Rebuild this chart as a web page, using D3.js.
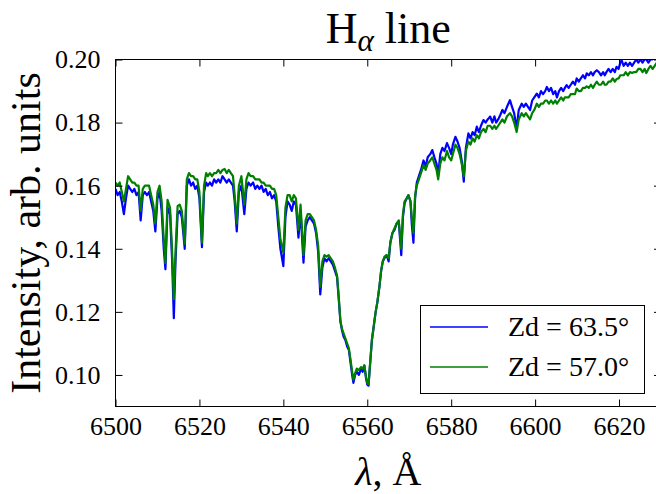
<!DOCTYPE html>
<html>
<head>
<meta charset="utf-8">
<script src="https://cdn.jsdelivr.net/npm/d3@7"></script>
<style>
  body { margin: 0; background: #fff; }
  svg { display: block; font-family: "Liberation Serif", serif; }
</style>
</head>
<body>
<svg id="chart"></svg>
<script>
// длины волн, Å
let lambda = [
  6500, 6500.5, 6501, 6501.5, 6502, 6502.5, 6503, 6503.5, 6504, 6504.5,
  6505, 6505.5, 6506, 6506.5, 6507, 6507.5, 6508, 6508.5, 6509, 6509.5,
  6510, 6510.5, 6511, 6511.5, 6511.9, 6512.4, 6513, 6513.5, 6513.9, 6514.3,
  6514.8, 6515.3, 6515.8, 6516.5, 6517, 6517.5, 6518, 6518.5, 6519, 6519.5,
  6520, 6520.6, 6521.1, 6521.6, 6522, 6522.5, 6523, 6523.5, 6524, 6524.5,
  6525, 6525.5, 6526, 6526.5, 6527, 6527.5, 6528, 6528.4, 6528.9, 6529.4,
  6530, 6530.7, 6531.2, 6531.7, 6532.2, 6532.8, 6533.3, 6533.8, 6534.3, 6534.8,
  6535.3, 6535.8, 6536.3, 6536.8, 6537.3, 6537.8, 6538.3, 6538.8, 6539.3, 6540,
  6540.5, 6541, 6541.5, 6542, 6542.5, 6543, 6543.6, 6544.1, 6544.8, 6545.3,
  6545.8, 6546.3, 6546.8, 6547.3, 6547.8, 6548.3, 6548.8, 6549.3, 6549.8, 6550.3,
  6550.8, 6551.3, 6551.8, 6552.3, 6552.8, 6553.2, 6553.6, 6554, 6554.4, 6554.8,
  6555.2, 6555.6, 6556, 6556.4, 6556.7, 6557.1, 6557.5, 6558, 6558.5, 6558.9,
  6559.3, 6559.7, 6560, 6560.3, 6560.7, 6561.1, 6561.6, 6562, 6562.4, 6562.9,
  6563.3, 6563.7, 6564.1, 6564.6, 6565.1, 6565.5, 6566, 6566.5, 6567, 6567.5,
  6568.1, 6568.5, 6568.9, 6569.4, 6569.8, 6570.3, 6570.6, 6571, 6571.4, 6571.8,
  6572.3, 6572.8, 6573.4, 6573.9, 6574.4, 6575, 6575.5, 6576, 6576.5, 6576.9,
  6577.4, 6577.9, 6578.4, 6579, 6579.5, 6580, 6580.4, 6581, 6581.5, 6582,
  6582.5, 6583, 6583.5, 6584.1, 6584.6, 6585.1, 6585.6, 6586.1, 6586.6, 6587.1,
  6587.7, 6588.2, 6588.7, 6589.3, 6589.8, 6590.3, 6590.7, 6591.2, 6591.7, 6592.2,
  6592.7, 6593.3, 6594, 6594.5, 6595, 6595.6, 6596.1, 6596.8, 6597.3, 6597.8,
  6598.3, 6598.8, 6599.3, 6599.8, 6600.4, 6600.9, 6601.4, 6601.9, 6602.4, 6602.8,
  6603.3, 6603.8, 6604.3, 6604.8, 6605.2, 6605.7, 6606.2, 6606.7, 6607.1, 6607.5,
  6608, 6608.5, 6609, 6609.5, 6609.9, 6610.4, 6610.9, 6611.4, 6611.9, 6612.3,
  6612.8, 6613.3, 6613.8, 6614.2, 6614.7, 6615.2, 6615.7, 6616.2, 6616.6, 6617,
  6617.5, 6618, 6618.5, 6619, 6619.4, 6619.9, 6620.3, 6620.6, 6621.1, 6621.6,
  6622.1, 6622.6, 6623.1, 6623.6, 6624.1, 6624.6, 6625.1, 6625.6, 6626.1, 6626.5,
  6627, 6627.5, 6628, 6628.5, 6629, 6630
];

// Zd = 63.5°
let zd635 = [
  0.159, 0.157, 0.158, 0.155, 0.151, 0.156, 0.160, 0.159, 0.158, 0.159,
  0.157, 0.158, 0.149, 0.157, 0.158, 0.157, 0.158, 0.155, 0.152, 0.1455,
  0.156, 0.158, 0.152, 0.140, 0.1335, 0.153, 0.151, 0.136, 0.118, 0.136,
  0.151, 0.152, 0.150, 0.140, 0.160, 0.162, 0.160, 0.161, 0.159, 0.160,
  0.156, 0.1405, 0.158, 0.161, 0.160, 0.161, 0.160, 0.162, 0.161, 0.162,
  0.161, 0.163, 0.162, 0.161, 0.162, 0.161, 0.160, 0.155, 0.1455, 0.158,
  0.160, 0.151, 0.159, 0.161, 0.160, 0.161, 0.159, 0.160, 0.159, 0.160,
  0.158, 0.159, 0.157, 0.158, 0.156, 0.157, 0.155, 0.147, 0.140, 0.1345,
  0.150, 0.155, 0.154, 0.152, 0.155, 0.154, 0.1435, 0.152, 0.1356, 0.147,
  0.149, 0.150, 0.149, 0.148, 0.145, 0.139, 0.1255, 0.134, 0.137, 0.136,
  0.137, 0.136, 0.135, 0.133, 0.131, 0.124, 0.117, 0.114, 0.112, 0.111,
  0.109, 0.108, 0.104, 0.100, 0.0975, 0.100, 0.101, 0.100, 0.102, 0.101,
  0.103, 0.099, 0.097, 0.0966, 0.104, 0.111, 0.116, 0.120, 0.123, 0.128,
  0.133, 0.136, 0.137, 0.138, 0.136, 0.142, 0.145, 0.146, 0.148, 0.1487,
  0.138, 0.150, 0.1545, 0.156, 0.157, 0.155, 0.148, 0.1419, 0.156, 0.161,
  0.163, 0.165, 0.168, 0.166, 0.169, 0.170, 0.1713, 0.169, 0.167, 0.1634,
  0.170, 0.172, 0.171, 0.1735, 0.172, 0.170, 0.173, 0.1755, 0.174, 0.172,
  0.168, 0.1613, 0.172, 0.1766, 0.175, 0.177, 0.176, 0.1787, 0.177, 0.179,
  0.1808, 0.180, 0.181, 0.1819, 0.180, 0.182, 0.180, 0.181, 0.1824, 0.184,
  0.183, 0.185, 0.1871, 0.185, 0.183, 0.1782, 0.184, 0.186, 0.185, 0.186,
  0.185, 0.184, 0.187, 0.188, 0.1892, 0.188, 0.190, 0.189, 0.190, 0.1913,
  0.190, 0.191, 0.189, 0.190, 0.188, 0.190, 0.191, 0.190, 0.191, 0.1919,
  0.191, 0.192, 0.193, 0.192, 0.194, 0.193, 0.194, 0.195, 0.194, 0.1956,
  0.195, 0.196, 0.195, 0.196, 0.1966, 0.196, 0.195, 0.196, 0.195, 0.196,
  0.197, 0.196, 0.197, 0.196, 0.1977, 0.197, 0.199, 0.1998, 0.198, 0.199,
  0.198, 0.199, 0.198, 0.199, 0.200, 0.199, 0.200, 0.199, 0.200, 0.200,
  0.199, 0.200, 0.200, 0.201, 0.200, 0.201
];

// Zd = 57.0°
let zd570 = [
  0.161, 0.160, 0.161, 0.158, 0.155, 0.159, 0.163, 0.162, 0.161, 0.161,
  0.160, 0.160, 0.152, 0.159, 0.160, 0.160, 0.160, 0.157, 0.154, 0.148,
  0.158, 0.160, 0.155, 0.143, 0.1355, 0.1555, 0.153, 0.139, 0.124, 0.139,
  0.1535, 0.154, 0.152, 0.1416, 0.162, 0.164, 0.163, 0.163, 0.162, 0.162,
  0.158, 0.142, 0.160, 0.164, 0.163, 0.164, 0.163, 0.164, 0.164, 0.165,
  0.164, 0.165, 0.1653, 0.164, 0.165, 0.164, 0.163, 0.157, 0.148, 0.160,
  0.163, 0.154, 0.162, 0.164, 0.163, 0.163, 0.162, 0.162, 0.162, 0.161,
  0.161, 0.160, 0.160, 0.160, 0.159, 0.159, 0.157, 0.150, 0.143, 0.1388,
  0.153, 0.157, 0.157, 0.155, 0.157, 0.156, 0.146, 0.154, 0.138, 0.149,
  0.151, 0.151, 0.150, 0.149, 0.146, 0.141, 0.128, 0.136, 0.138, 0.1375,
  0.138, 0.137, 0.136, 0.134, 0.1315, 0.125, 0.117, 0.1145, 0.113, 0.1115,
  0.110, 0.1085, 0.105, 0.101, 0.0985, 0.1005, 0.102, 0.1015, 0.1025, 0.102,
  0.103, 0.0995, 0.0975, 0.097, 0.104, 0.111, 0.116, 0.120, 0.123, 0.128,
  0.133, 0.136, 0.1375, 0.138, 0.137, 0.142, 0.145, 0.1465, 0.148, 0.149,
  0.140, 0.151, 0.155, 0.156, 0.157, 0.155, 0.150, 0.145, 0.157, 0.160,
  0.162, 0.164, 0.1665, 0.165, 0.167, 0.168, 0.169, 0.167, 0.165, 0.162,
  0.167, 0.169, 0.168, 0.171, 0.169, 0.168, 0.170, 0.173, 0.172, 0.170,
  0.167, 0.163, 0.171, 0.174, 0.173, 0.175, 0.174, 0.176, 0.175, 0.177,
  0.178, 0.177, 0.179, 0.179, 0.178, 0.179, 0.178, 0.179, 0.180, 0.181,
  0.180, 0.182, 0.183, 0.182, 0.180, 0.177, 0.181, 0.183, 0.182, 0.183,
  0.182, 0.181, 0.183, 0.184, 0.186, 0.185, 0.186, 0.186, 0.187, 0.187,
  0.186, 0.187, 0.186, 0.187, 0.186, 0.187, 0.188, 0.187, 0.188, 0.188,
  0.188, 0.189, 0.189, 0.189, 0.1908, 0.190, 0.190, 0.191, 0.191, 0.1915,
  0.191, 0.192, 0.191, 0.192, 0.193, 0.192, 0.192, 0.193, 0.192, 0.192,
  0.193, 0.193, 0.194, 0.193, 0.1938, 0.194, 0.195, 0.195, 0.195, 0.196,
  0.195, 0.196, 0.1957, 0.196, 0.196, 0.197, 0.197, 0.196, 0.197, 0.1957,
  0.197, 0.198, 0.197, 0.198, 0.199, 0.199
];

let xTicks = [6500, 6520, 6540, 6560, 6580, 6600, 6620];
let yTicks = [0.10, 0.12, 0.14, 0.16, 0.18, 0.20];
let seriesNames = ["Zd = 63.5°", "Zd = 57.0°"];
let seriesColors = ["#0000ff", "#008000"];

let width = 656;
let height = 494;
// область графика (правая граница выходит за пределы картинки)
let plotLeft = 115.5, plotRight = 661, plotTop = 59.5, plotBottom = 406.5;
let tickLen = 7;
let serif = '"Liberation Serif", serif';

let svg = d3.select("#chart").attr("width", width).attr("height", height)
  .attr("font-family", serif);

let scaleX = d3.scaleLinear().domain([6500, 6630]).range([plotLeft, plotRight]);
let scaleY = d3.scaleLinear().domain([0.09, 0.20]).range([plotBottom, plotTop]);

svg.append("defs").append("clipPath").attr("id", "plot")
  .append("rect")
  .attr("x", plotLeft).attr("y", plotTop)
  .attr("width", plotRight - plotLeft).attr("height", plotBottom - plotTop);

// линии спектров: сначала синяя, поверх зелёная
let series = [zd635, zd570];
let line = d3.line()
  .x((d) => scaleX(d[0]))
  .y((d) => scaleY(d[1]));

series.forEach(function (values, i) {
  svg.append("path")
    .datum(d3.zip(lambda, values))
    .attr("clip-path", "url(#plot)")
    .attr("d", line)
    .attr("fill", "none")
    .attr("stroke", seriesColors[i])
    .attr("stroke-width", 2.2)
    .attr("stroke-linejoin", "round");
});

// оси: тики внутрь со всех сторон
let axisBottom = d3.axisBottom(scaleX).tickValues(xTicks)
  .tickSizeInner(-tickLen).tickSizeOuter(0).tickPadding(10)
  .tickFormat(d3.format("d"));
let axisTop = d3.axisTop(scaleX).tickValues(xTicks)
  .tickSizeInner(-tickLen).tickSizeOuter(0).tickFormat("");
let axisLeft = d3.axisLeft(scaleY).tickValues(yTicks)
  .tickSizeInner(-tickLen).tickSizeOuter(0).tickPadding(15)
  .tickFormat(d3.format(".2f"));
let axisRight = d3.axisRight(scaleY).tickValues(yTicks)
  .tickSizeInner(-tickLen).tickSizeOuter(0).tickFormat("");

function styleAxis(g) {
  g.attr("font-family", serif).attr("font-size", 26);
  g.select(".domain").remove();
  g.selectAll(".tick line").attr("stroke", "#000").attr("stroke-width", 1);
  g.selectAll(".tick text").attr("fill", "#000");
}

svg.append("g").attr("transform", `translate(0, ${plotBottom})`).call(axisBottom).call(styleAxis);
svg.append("g").attr("transform", `translate(0, ${plotTop})`).call(axisTop).call(styleAxis);
svg.append("g").attr("transform", `translate(${plotLeft}, 0)`).call(axisLeft).call(styleAxis);
svg.append("g").attr("transform", `translate(${plotRight}, 0)`).call(axisRight).call(styleAxis);

// рамка
svg.append("rect")
  .attr("x", plotLeft).attr("y", plotTop)
  .attr("width", plotRight - plotLeft).attr("height", plotBottom - plotTop)
  .attr("fill", "none").attr("stroke", "#000").attr("stroke-width", 1);

// заголовок
let title = svg.append("text")
  .attr("x", (plotLeft + plotRight) / 2).attr("y", 43)
  .attr("text-anchor", "middle")
  .attr("font-size", 44);
title.append("tspan").text("H");
title.append("tspan").attr("dy", 8).attr("font-size", 31).attr("font-style", "italic").text("α");
title.append("tspan").attr("dy", -8).text(" line");

// подписи осей
let xLabel = svg.append("text")
  .attr("x", (plotLeft + plotRight) / 2).attr("y", 485)
  .attr("text-anchor", "middle")
  .attr("font-size", 40);
xLabel.append("tspan").attr("font-style", "italic").text("λ");
xLabel.append("tspan").text(",  Å");

svg.append("text")
  .attr("transform", `translate(40, ${(plotTop + plotBottom) / 2}) rotate(-90)`)
  .attr("text-anchor", "middle")
  .attr("font-size", 42)
  .text("Intensity, arb. units");

// легенда
let legend = svg.append("g");
legend.append("rect")
  .attr("x", 420.5).attr("y", 305.5)
  .attr("width", 224).attr("height", 88)
  .attr("fill", "#fff").attr("stroke", "#000").attr("stroke-width", 1);

seriesNames.forEach(function (name, i) {
  let y = 327 + i * 40;
  legend.append("line")
    .attr("x1", 430).attr("x2", 488)
    .attr("y1", y).attr("y2", y)
    .attr("stroke", seriesColors[i]).attr("stroke-width", 1.5);
  legend.append("text")
    .attr("x", 508).attr("y", y + 9)
    .attr("font-size", 28)
    .text(name);
});
</script>
</body>
</html>
